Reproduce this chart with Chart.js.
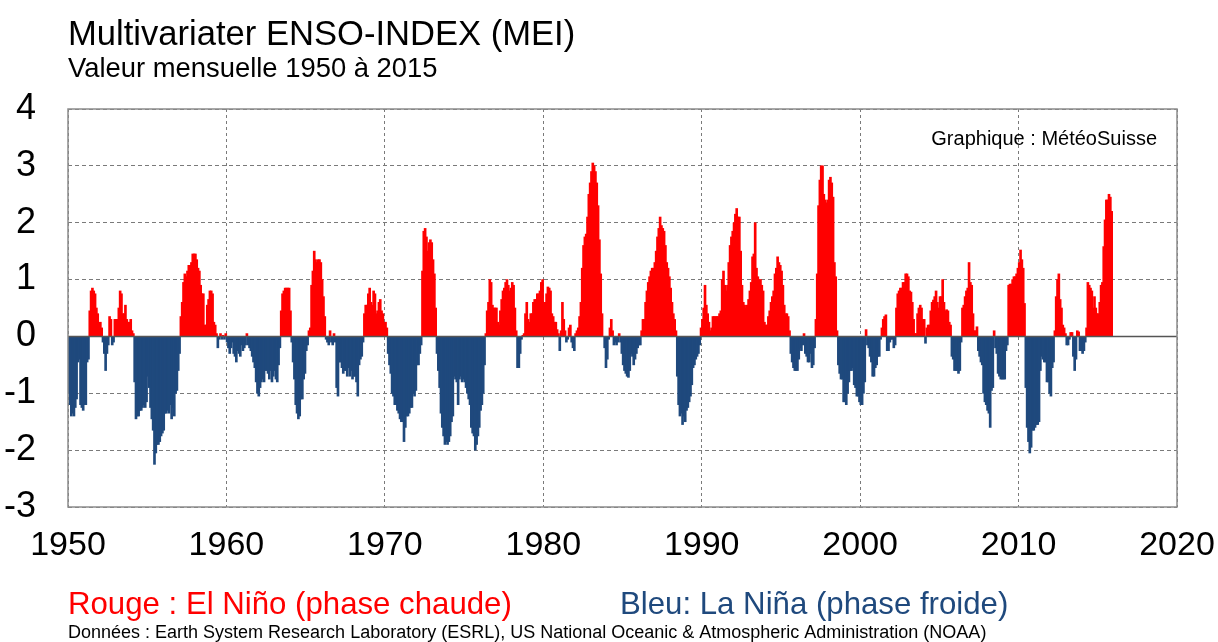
<!DOCTYPE html>
<html>
<head>
<meta charset="utf-8">
<title>Multivariater ENSO-INDEX (MEI)</title>
<script src="https://cdn.jsdelivr.net/npm/chart.js@4"></script>
<style>
  html, body { margin: 0; padding: 0; background: #fff; }
  canvas { display: block; }
</style>
</head>
<body>
<canvas id="mei" width="1218" height="642"></canvas>
<script>
// MEI mensuel (janvier -> décembre)
const startYear = 1950;

const mei1950s = [
  -1.0, -1.2, -1.4, -1.35, -1.4, -1.25, -1.1, -0.45, -0.4, -1.2, -1.25, -1.3,   // 1950
  -1.2, -1.2, -0.45, -0.4, 0.45, 0.8, 0.85, 0.8, 0.75, 0.5, 0.4, 0.2,           // 1951
  0.25, 0.15, -0.1, -0.3, -0.6, -0.3, -0.15, 0.35, 0.3, -0.15, -0.1, 0.3,        // 1952
  0.3, 0.3, 0.5, 0.8, 0.75, 0.4, 0.4, 0.55, 0.3, 0.25, 0.25, 0.3,                // 1953
  0.1, 0.05, -0.8, -1.45, -1.4, -1.4, -1.3, -1.3, -1.25, -1.2, -1.25, -1.15,     // 1954
  -0.7, -0.9, -1.25, -1.45, -1.65, -2.25, -2.05, -1.9, -1.9, -1.85, -1.75, -1.7, // 1955
  -1.65, -1.35, -1.35, -1.3, -1.35, -1.2, -1.45, -1.25, -1.4, -1.0, -0.95, -0.6, // 1956
  -0.3, 0.35, 0.6, 0.95, 1.1, 1.05, 1.15, 1.25, 1.25, 1.3, 1.45, 1.45,           // 1957
  1.45, 1.35, 1.2, 1.15, 0.9, 0.75, 0.75, 0.2, 0.2, 0.55, 0.65, 0.8,             // 1958
  0.8, 0.75, 0.25, 0.2, 0.05, -0.2, -0.05, 0.05, -0.05, 0.02, -0.05, 0.05        // 1959
];
const mei1960s = [
  -0.1, -0.2, -0.3, -0.2, -0.1, -0.3, -0.35, -0.45, -0.25, -0.3, -0.35, -0.15,   // 1960
  -0.25, -0.2, -0.15, 0.05, -0.15, -0.2, -0.25, -0.35, -0.45, -0.55, -0.8, -1.0, // 1961
  -1.05, -0.9, -0.8, -0.75, -0.8, -0.6, -0.6, -0.65, -0.75, -0.6, -0.8, -0.7,    // 1962
  -0.6, -0.75, -0.8, -0.5, -0.2, 0.45, 0.75, 0.8, 0.85, 0.85, 0.85, 0.85,        // 1963
  0.45, -0.1, -0.45, -0.75, -1.2, -1.35, -1.45, -1.4, -1.1, -1.1, -0.75, -0.65,  // 1964
  -0.25, -0.15, 0.1, 0.15, 0.9, 1.15, 1.5, 1.35, 1.3, 1.35, 1.35, 1.3,           // 1965
  1.0, 0.7, 0.35, -0.05, -0.1, -0.15, 0.1, -0.1, -0.15, 0.05, -0.1, -0.9,        // 1966
  -1.05, -0.45, -0.45, -0.55, -0.65, -0.6, -0.6, -0.7, -0.55, -0.7, -0.6, -0.75, // 1967
  -0.7, -0.7, -0.8, -1.05, -0.5, -0.4, -0.35, -0.1, 0.4, 0.55, 0.55, 0.75,       // 1968
  0.85, 0.6, 0.55, 0.8, 0.75, 0.4, 0.45, 0.6, 0.65, 0.45, 0.4, 0.25              // 1969
];
const mei1970s = [
  0.25, 0.15, -0.3, -0.5, -0.65, -1.0, -1.05, -1.2, -1.2, -1.3, -1.35, -1.45,    // 1970
  -1.5, -1.5, -1.85, -1.6, -1.4, -1.4, -1.35, -1.25, -1.25, -1.0, -1.05, -0.95,  // 1971
  -0.5, -0.5, -0.3, -0.15, 1.15, 1.85, 1.9, 1.75, 1.5, 1.65, 1.7, 1.65,          // 1972
  1.35, 1.1, 0.5, -0.3, -0.6, -0.9, -1.35, -1.6, -1.75, -1.9, -1.85, -1.9,       // 1973
  -1.85, -1.75, -1.5, -1.4, -0.7, -0.75, -0.8, -1.2, -0.75, -0.7, -0.8, -0.75,   // 1974
  -0.8, -0.9, -1.0, -1.1, -1.2, -1.6, -1.7, -1.75, -2.0, -1.9, -1.75, -1.6,      // 1975
  -1.3, -1.2, -1.0, -0.5, 0.05, 0.45, 0.6, 1.0, 0.95, 0.55, 0.5, 0.5,            // 1976
  0.5, 0.25, 0.2, 0.45, 0.65, 0.8, 0.85, 0.95, 1.0, 0.9, 0.8, 0.85,              // 1977
  0.95, 0.9, 0.5, 0.1, -0.55, -0.55, -0.3, -0.05, 0.02, 0.05, 0.4, 0.6,          // 1978
  0.3, 0.25, 0.4, 0.4, 0.6, 0.65, 0.65, 0.75, 0.75, 0.8, 0.95, 1.0               // 1979
];
const mei1980s = [
  0.6, 0.6, 0.75, 0.87, 0.85, 0.8, 0.4, 0.35, 0.25, 0.25, 0.12, 0.05,            // 1980
  -0.25, 0.1, 0.6, 0.3, 0.1, -0.1, -0.05, 0.15, 0.2, -0.1, -0.2, -0.25,          // 1981
  0.05, 0.1, 0.15, 0.35, 0.6, 1.2, 1.6, 1.75, 1.8, 2.1, 2.5, 2.7,                // 1982
  2.9, 3.05, 3.0, 2.9, 2.7, 2.3, 1.7, 1.1, 0.4, 0.0, -0.2, -0.55,                // 1983
  -0.4, -0.05, 0.15, 0.3, 0.1, -0.15, -0.1, -0.15, -0.1, 0.05, -0.1, -0.3,       // 1984
  -0.5, -0.6, -0.65, -0.7, -0.72, -0.6, -0.3, -0.35, -0.5, -0.4, -0.3, -0.2,     // 1985
  -0.15, -0.15, 0.1, 0.3, 0.3, 0.6, 0.8, 0.95, 1.05, 1.15, 1.2, 1.2,             // 1986
  1.3, 1.5, 1.75, 1.9, 2.1, 1.95, 1.9, 1.85, 1.6, 1.3, 1.2, 1.05,                // 1987
  0.85, 0.6, 0.4, 0.3, 0.1, -0.7, -1.2, -1.4, -1.35, -1.55, -1.4, -1.5,          // 1988
  -1.3, -1.25, -1.15, -1.05, -0.85, -0.55, -0.5, -0.4, -0.35, -0.3, -0.15, 0.15  // 1989
];
const mei1990s = [
  0.3, 0.5, 0.9, 0.55, 0.4, 0.25, 0.1, 0.15, 0.35, 0.35, 0.35, 0.35,            // 1990
  0.35, 0.4, 0.45, 1.0, 1.15, 0.9, 0.8, 0.9, 1.3, 1.6, 1.75, 1.85,              // 1991
  2.0, 2.15, 2.25, 2.1, 2.1, 1.5, 0.9, 0.6, 0.55, 0.5, 0.55, 0.65,              // 1992
  0.8, 0.95, 1.4, 1.45, 2.0, 1.2, 1.05, 1.0, 1.0, 0.9, 0.8, 0.25,               // 1993
  0.2, 0.2, 0.35, 0.45, 0.6, 0.7, 0.8, 1.1, 1.2, 1.4, 1.3, 1.25,                // 1994
  1.15, 0.9, 0.55, 0.4, 0.4, 0.35, 0.1, -0.3, -0.45, -0.55, -0.6, -0.6,         // 1995
  -0.6, -0.4, -0.2, -0.25, -0.15, 0.05, -0.3, -0.35, -0.45, -0.45, -0.3, -0.55, // 1996
  -0.5, -0.2, 0.3, 1.1, 2.3, 2.75, 3.0, 3.0, 2.5, 2.4, 2.35, 2.4,               // 1997
  2.75, 2.8, 2.7, 2.45, 1.3, 1.05, 0.1, -0.5, -0.65, -0.75, -0.75, -1.15,       // 1998
  -1.15, -1.2, -1.0, -0.8, -0.6, -0.6, -0.55, -0.85, -0.9, -1.05, -1.05, -1.15  // 1999
];
const mei2000s = [
  -1.2, -1.2, -1.0, -0.8, 0.12, -0.15, -0.2, -0.35, -0.45, -0.7, -0.7, -0.55,   // 2000
  -0.5, -0.35, -0.35, -0.05, 0.15, 0.3, 0.35, 0.38, -0.25, -0.25, -0.1, -0.05,  // 2001
  -0.05, -0.2, -0.15, 0.5, 0.75, 0.8, 0.85, 0.85, 0.95, 0.95, 1.1, 1.1,         // 2002
  1.05, 0.8, 0.78, 0.6, 0.3, 0.05, 0.05, 0.4, 0.5, 0.55, 0.5, 0.3,              // 2003
  0.3, -0.12, 0.15, 0.2, 0.2, 0.45, 0.6, 0.64, 0.7, 0.8, 0.6, 0.5,              // 2004
  0.7, 0.7, 1.0, 0.6, 0.45, 0.47, 0.45, 0.25, 0.2, -0.35, -0.4, -0.6,           // 2005
  -0.6, -0.6, -0.65, -0.6, -0.1, 0.5, 0.55, 0.7, 0.8, 0.85, 1.3, 0.95,          // 2006
  0.9, 0.4, 0.1, 0.1, 0.17, -0.25, -0.35, -0.45, -0.5, -1.0, -1.15, -1.2,       // 2007
  -1.3, -1.35, -1.6, -0.95, -0.9, 0.1, -0.2, -0.3, -0.65, -0.7, -0.75, -0.75,   // 2008
  -0.75, -0.75, -0.25, -0.15, 0.9, 0.92, 0.92, 1.0, 1.05, 1.05, 1.1, 1.2        // 2009
];
const mei2010s = [
  1.3, 1.52, 1.35, 1.2, 0.58, -0.9, -1.6, -1.85, -2.05, -1.95, -1.65, -1.65,    // 2010
  -1.6, -1.55, -1.55, -1.5, -0.6, -0.35, -0.4, -0.45, -0.45, -0.8, -0.8, -1.0,  // 2011
  -1.05, -0.55, -0.45, 0.1, 0.7, 1.0, 1.1, 0.65, 0.5, 0.2, 0.15, 0.05,          // 2012
  -0.15, -0.15, -0.05, 0.07, 0.07, -0.35, -0.6, -0.4, 0.1, 0.08, -0.25, -0.25,  // 2013
  -0.3, -0.25, -0.1, 0.15, 0.95, 0.9, 0.85, 0.8, 0.5, 0.7, 0.5, 0.4,            // 2014
  0.4, 0.6, 0.9, 0.95, 1.58, 2.05, 2.4, 2.4, 2.5, 2.45, 2.2                     // 2015 (jan-nov)
];

const xTicks = [1950, 1960, 1970, 1980, 1990, 2000, 2010, 2020];
const yTicks = [-3, -2, -1, 0, 1, 2, 3, 4];

const title = 'Multivariater ENSO-INDEX (MEI)';
const subtitle = 'Valeur mensuelle 1950 à 2015';
const credit = 'Graphique : MétéoSuisse';
const legendRed = 'Rouge : El Niño (phase chaude)';
const legendBlue = 'Bleu: La Niña (phase froide)';
const source = 'Données : Earth System Research Laboratory (ESRL), US National Oceanic & Atmospheric Administration (NOAA)';

const RED = '#ff0000';
const BLUE = '#1f497d';
const FONT = '"Liberation Sans", Arial, sans-serif';

const mei = [].concat(mei1950s, mei1960s, mei1970s, mei1980s, mei1990s, mei2000s, mei2010s);
const points = mei.map((v, i) => ({ x: startYear + (i + 0.5) / 12, y: v }));
const colours = mei.map(v => v >= 0 ? RED : BLUE);

// zero line + frame round the plot
const frame = {
  id: 'frame',
  afterDatasetsDraw(chart) {
    const { ctx, chartArea: a, scales } = chart;
    const y0 = scales.y.getPixelForValue(0);
    ctx.save();
    ctx.strokeStyle = '#555';
    ctx.lineWidth = 1.5;
    ctx.beginPath();
    ctx.moveTo(a.left, y0);
    ctx.lineTo(a.right, y0);
    ctx.stroke();
    ctx.strokeStyle = '#8c8c8c';
    ctx.lineWidth = 1.5;
    ctx.strokeRect(a.left, a.top, a.right - a.left, a.bottom - a.top);
    ctx.restore();
  }
};

// titles, credit and footer texts
const texts = {
  id: 'texts',
  afterDraw(chart) {
    const { ctx, chartArea: a } = chart;
    ctx.save();
    ctx.textBaseline = 'alphabetic';
    ctx.textAlign = 'left';
    ctx.fillStyle = '#000';
    ctx.font = '34.6px ' + FONT;
    ctx.fillText(title, a.left, 45);
    ctx.font = '27.4px ' + FONT;
    ctx.fillText(subtitle, a.left, 77);
    ctx.font = '31.2px ' + FONT;
    ctx.fillStyle = RED;
    ctx.fillText(legendRed, a.left, 614);
    ctx.fillStyle = BLUE;
    ctx.fillText(legendBlue, 620, 614);
    ctx.fillStyle = '#000';
    ctx.font = '18px ' + FONT;
    ctx.fillText(source, a.left, 638);
    ctx.font = '20px ' + FONT;
    ctx.textAlign = 'right';
    ctx.fillText(credit, 1157, 145);
    ctx.restore();
  }
};

const ctx = document.getElementById('mei').getContext('2d');
const chart = new Chart(ctx, {
  type: 'bar',
  data: {
    datasets: [{
      label: 'MEI',
      data: points,
      backgroundColor: colours,
      borderWidth: 0,
      barThickness: 2
    }]
  },
  options: {
    responsive: false,
    animation: false,
    devicePixelRatio: 1,
    layout: { padding: { top: 109, right: 41, bottom: 0, left: 0 } },
    plugins: {
      legend: { display: false },
      tooltip: { enabled: false }
    },
    scales: {
      x: {
        type: 'linear',
        min: 1950,
        max: 2020,
        offset: false,
        afterBuildTicks: s => { s.ticks = xTicks.map(v => ({ value: v })); },
        afterFit: s => { s.height = 135; s.paddingLeft = 0; s.paddingRight = 0; },
        ticks: {
          color: '#000',
          font: { family: FONT, size: 34 },
          padding: 18,
          maxRotation: 0,
          autoSkip: false,
          callback: v => String(v)
        },
        grid: { offset: false, color: '#7a7a7a', lineWidth: 1, drawTicks: false },
        border: { display: false, dash: [3, 3] }
      },
      y: {
        min: -3,
        max: 4,
        afterBuildTicks: s => { s.ticks = yTicks.map(v => ({ value: v })); },
        afterFit: s => { s.width = 68; },
        ticks: {
          color: '#000',
          font: { family: FONT, size: 36 },
          padding: 32
        },
        grid: { color: '#7a7a7a', lineWidth: 1, drawTicks: false },
        border: { display: false, dash: [4, 3] }
      }
    }
  },
  plugins: [frame, texts]
});
</script>
</body>
</html>
